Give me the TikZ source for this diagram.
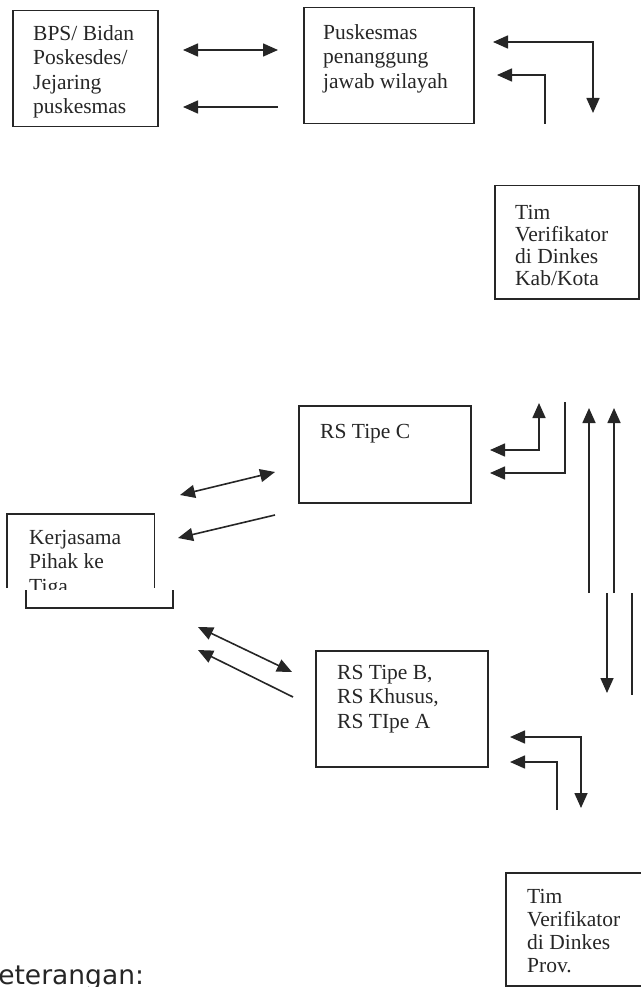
\documentclass[tikz,border=0pt]{standalone}
\usepackage{fontspec}
\setmainfont{Liberation Serif}
\newfontfamily\notefont{DejaVu Sans}
\usepackage{tikz}
\usetikzlibrary{arrows.meta, positioning}
\definecolor{ink}{HTML}{262626}
\newcommand{\boxfont}{\fontsize{21.5}{24.5}\selectfont}
\tikzset{
  % boxes of the scheme
  frame/.style={rectangle, draw=ink, line width=1.5pt, inner sep=0pt,
                anchor=north west},
  % text set in the upper left of a box
  boxtext/.style={anchor=north west, inner sep=0pt, align=left,
                  font=\boxfont, text=ink},
  % connectors
  wire/.style={draw=ink, line width=1.6pt},
  oneway/.style={wire, -{Triangle[length=15pt, width=13pt]}},
  twoway/.style={wire, {Triangle[length=15pt, width=13pt]}-{Triangle[length=15pt, width=13pt]}},
}

\begin{document}
\begin{tikzpicture}[x=1pt, y=-1pt]
\useasboundingbox (0,0) rectangle (640,987);

% ── Row 1: BPS and Puskesmas ─────────────────────────────────────────────────
\node[frame, minimum width=145pt, minimum height=116pt] (bps) at (12,10) {};
\node[boxtext] (bpstxt) at (33,25) {BPS/ Bidan\\Poskesdes/\\Jejaring\\puskesmas};

\node[frame, minimum width=170pt, minimum height=116pt] (pusk) at (303,7) {};
\node[boxtext] (pusktxt) at (323,24) {Puskesmas\\penanggung\\jawab wilayah};

% ── Row 2: Verifikator Kab/Kota ──────────────────────────────────────────────
\node[frame, minimum width=144pt, minimum height=113pt] (kab) at (494,185) {};
\node[boxtext, font=\fontsize{21.5}{22}\selectfont] (kabtxt) at (515,205)
  {Tim\\Verifikator\\di Dinkes\\Kab/Kota};

% ── Row 3: RS Tipe C and Kerjasama ───────────────────────────────────────────
\node[frame, minimum width=172pt, minimum height=97pt] (rsc) at (298,405) {};
\node[boxtext] (rsctxt) at (320,424) {RS Tipe C};

\node[anchor=north west, inner sep=0pt, minimum width=147pt,
      minimum height=94pt] (kerja) at (7,514) {};
\begin{scope}
  \clip (0,0) rectangle (640,589);
  \node[boxtext] (kerjatxt) at (29,530) {Kerjasama\\Pihak ke\\Tiga};
\end{scope}
\draw[wire] (kerja.north west) ++(0,74) -- (kerja.north west)
  -- (kerja.north east) -- ++(0,74);
\draw[wire] (26,590) -- (26,608) -- (173,608) -- (173,590);

% ── Row 4: RS Tipe B ─────────────────────────────────────────────────────────
\node[frame, minimum width=172pt, minimum height=116pt] (rsb) at (315,650) {};
\node[boxtext] (rsbtxt) at (337,665) {RS Tipe B,\\RS Khusus,\\RS TIpe A};

% ── Row 5: Verifikator Prov. ─────────────────────────────────────────────────
\node[frame, minimum width=160pt, minimum height=113pt] (prov) at (505,872) {};
\node[boxtext, font=\fontsize{21.5}{23}\selectfont] (provtxt) at (527,889)
  {Tim\\Verifikator\\di Dinkes\\Prov.};

\node[anchor=base west, inner sep=0pt, font=\notefont\fontsize{26.5}{30}\selectfont,
      text=ink] (note) at (-18,984) {Keterangan:};

% ── Arrow ends ───────────────────────────────────────────────────────────────
\coordinate (bp1) at (183,50);   \coordinate (bp2) at (278,50);
\coordinate (bp3) at (278,107);  \coordinate (bp4) at (183,107);
\coordinate (pk1) at (493,42);   \coordinate (pk2) at (593,113);
\coordinate (pk3) at (545,124);  \coordinate (pk4) at (497,75);

\coordinate (kc1) at (180,495);  \coordinate (kc2) at (275,472);
\coordinate (kc3) at (275,515);  \coordinate (kc4) at (178,538);
\coordinate (ck1) at (490,450);  \coordinate (ck2) at (539,403);
\coordinate (ck3) at (565,402);  \coordinate (ck4) at (490,473);

\coordinate (up1) at (589,593);  \coordinate (up2) at (589,408);
\coordinate (up3) at (614,593);  \coordinate (up4) at (614,408);
\coordinate (dn1) at (607,593);  \coordinate (dn2) at (607,693);
\coordinate (dn3) at (632,593);  \coordinate (dn4) at (632,695);

\coordinate (kb1) at (198,627);  \coordinate (kb2) at (292,672);
\coordinate (kb3) at (293,697);  \coordinate (kb4) at (198,650);
\coordinate (bp5) at (510,737);  \coordinate (bp6) at (581,808);
\coordinate (bp7) at (557,810);  \coordinate (bp8) at (510,762);

% ── Arrows ───────────────────────────────────────────────────────────────────
\draw[twoway] (bp1) -- (bp2);
\draw[oneway] (bp3) -- (bp4);
\draw[twoway] (pk1) -| (pk2);
\draw[oneway] (pk3) |- (pk4);

\draw[twoway] (kc1) -- (kc2);
\draw[oneway] (kc3) -- (kc4);
\draw[twoway] (ck1) -| (ck2);
\draw[oneway] (ck3) |- (ck4);

\draw[oneway] (up1) -- (up2);
\draw[oneway] (up3) -- (up4);
\draw[oneway] (dn1) -- (dn2);
\draw[wire]   (dn3) -- (dn4);

\draw[twoway] (kb1) -- (kb2);
\draw[oneway] (kb3) -- (kb4);
\draw[twoway] (bp5) -| (bp6);
\draw[oneway] (bp7) |- (bp8);

\end{tikzpicture}
\end{document}
